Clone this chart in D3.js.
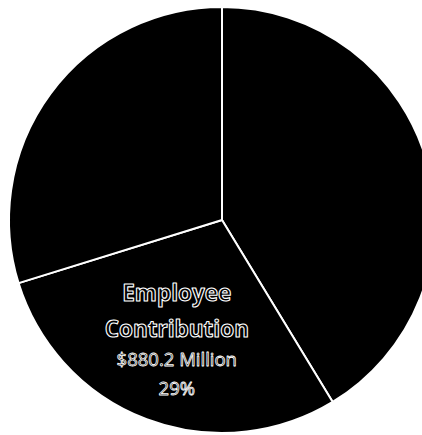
<!DOCTYPE html>
<html>
<head>
<meta charset="utf-8">
<script src="https://cdn.jsdelivr.net/npm/d3@7/dist/d3.min.js"></script>
<style>
  html, body { margin: 0; padding: 0; background: #fff; }
  svg { display: block; }
</style>
</head>
<body>
<svg id="chart" width="422" height="435"></svg>
<script>
// Contribution sources, $ millions
const categories = ["Employer Contribution", "Employee Contribution", "Investment Income"];
const amounts = [1257.5, 880.2, 907.0];
const percentLabels = ["41%", "29%", "30%"];
// Only this slice carries a visible label
const labelledIndex = 1;

const width = 422, height = 435;
const cx = 222, cy = 220, radius = 213;

const svg = d3.select("#chart");
const g = svg.append("g").attr("transform", `translate(${cx},${cy})`);

const pie = d3.pie().sort(null).value(d => d.value);
const arcs = pie(categories.map((c, i) => ({ name: c, value: amounts[i], pct: percentLabels[i] })));

const arc = d3.arc().innerRadius(0).outerRadius(radius);
const labelArc = d3.arc().innerRadius(radius * 0.6).outerRadius(radius * 0.6);

g.selectAll("path.slice")
  .data(arcs)
  .join("path")
  .attr("class", "slice")
  .attr("d", arc)
  .attr("fill", "#000")
  .attr("stroke", "#fff")
  .attr("stroke-width", 2)
  .attr("stroke-linejoin", "round");

// Label: name on two lines, amount and share below
const d = arcs[labelledIndex];
const [lx, ly] = labelArc.centroid(d);
const nameParts = d.data.name.split(" ");
const lines = [
  { text: nameParts[0], size: 22.5, weight: "bold", dy: 0, sw: 1.1 },
  { text: nameParts[1], size: 22.5, weight: "bold", dy: 36, sw: 1.1 },
  { text: "$" + d3.format(".1f")(d.data.value) + " Million", size: 18.5, weight: "normal", dy: 65, sw: 0.8 },
  { text: d.data.pct, size: 18.5, weight: "normal", dy: 94, sw: 0.8 }
];

const label = g.append("g").attr("transform", `translate(${lx},${ly - 39})`);
label.selectAll("text")
  .data(lines)
  .join("text")
  .attr("x", 0)
  .attr("y", l => l.dy)
  .attr("text-anchor", "middle")
  .attr("font-family", "'Open Sans', sans-serif")
  .attr("font-size", l => l.size)
  .attr("font-weight", l => l.weight)
  .attr("fill", "#000")
  .attr("stroke", "#fff")
  .attr("stroke-width", l => l.sw)
  .attr("stroke-linejoin", "round")
  .text(l => l.text);
</script>
</body>
</html>
